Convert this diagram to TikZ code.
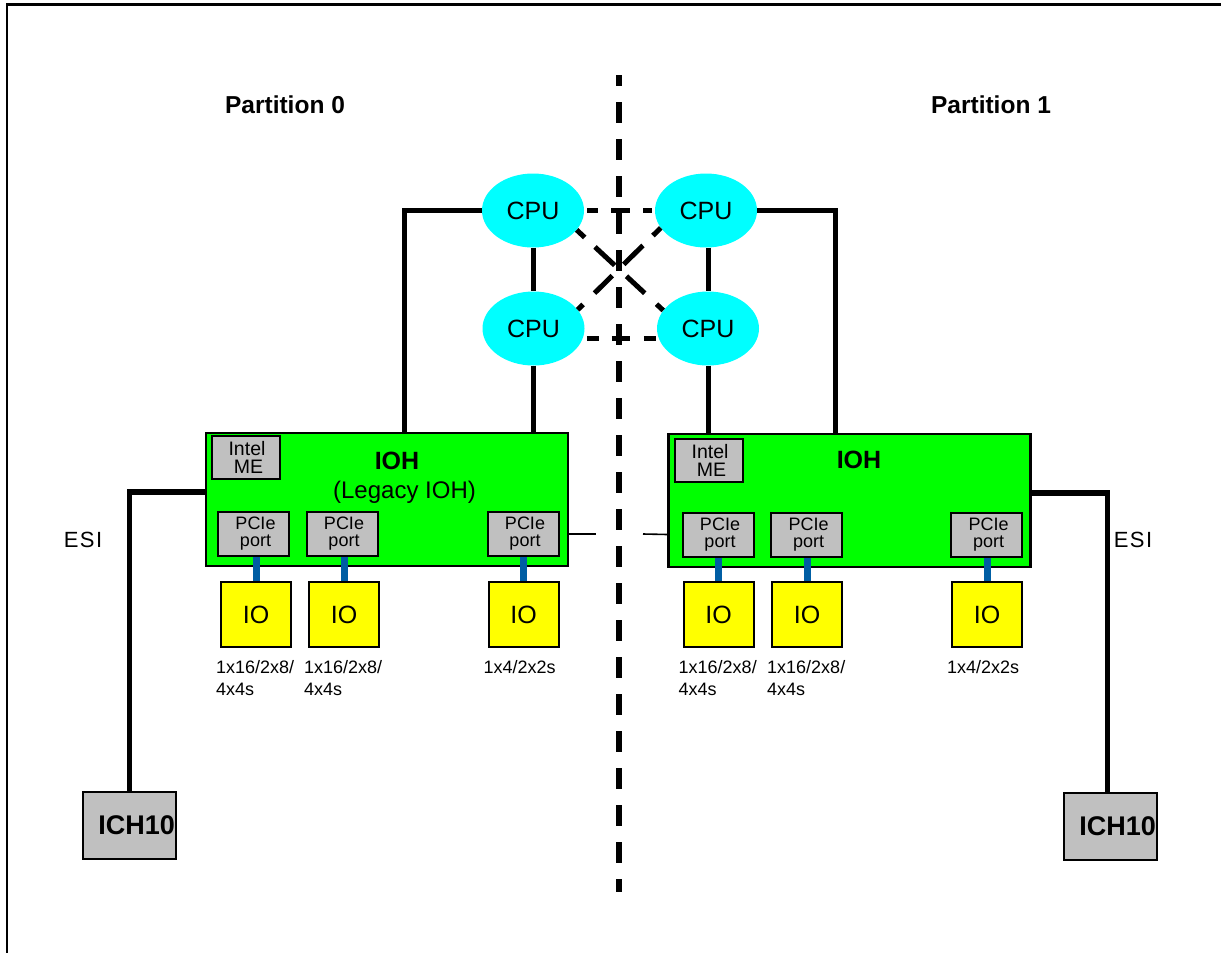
\documentclass[tikz,border=0pt]{standalone}
\usepackage{fontspec}
\setmainfont{Liberation Sans}
\usetikzlibrary{shapes.geometric,calc}
\definecolor{cpucyan}{RGB}{0,255,255}
\definecolor{iohgreen}{RGB}{0,255,0}
\definecolor{boxgray}{RGB}{192,192,192}
\definecolor{ioyellow}{RGB}{255,255,0}
\definecolor{linkblue}{RGB}{0,94,164}
\begin{document}
\begin{tikzpicture}[x=1pt,y=-1pt,
  cpu/.style={ellipse,fill=cpucyan,minimum width=102pt,minimum height=74pt,inner sep=0pt,font=\fontsize{25}{25}\selectfont},
  iohbox/.style={rectangle,draw,fill=iohgreen,line width=2.5pt,minimum width=362pt,minimum height=133pt,inner sep=0pt},
  mebox/.style={rectangle,draw,fill=boxgray,line width=2pt,minimum width=68pt,minimum height=43pt,inner sep=0pt,align=center,font=\fontsize{19.5}{18}\selectfont},
  pciebox/.style={rectangle,draw,fill=boxgray,line width=2pt,minimum width=71pt,minimum height=44pt,inner sep=0pt,align=center,font=\fontsize{18}{17}\selectfont},
  iobox/.style={rectangle,draw,fill=ioyellow,line width=2pt,minimum width=70pt,minimum height=65pt,inner sep=0pt,font=\fontsize{25}{25}\selectfont},
  ichbox/.style={rectangle,draw,fill=boxgray,line width=2pt,minimum width=93pt,minimum height=67pt,inner xsep=1pt,inner ysep=0pt,text width=91pt,align=right,font=\bfseries\fontsize{27}{27}\selectfont},
  lanelabel/.style={anchor=north west,inner sep=0pt,align=left,font=\fontsize{18}{22}\selectfont},
  plain/.style={inner sep=0pt},
  heavy/.style={line width=5pt},
  esiline/.style={line width=5.5pt},
  qpi/.style={line width=5pt},
  bluelink/.style={line width=7pt,draw=linkblue},
  thinlink/.style={line width=1.6pt},
  partline/.style={line width=6pt,dash pattern=on 21pt off 16pt,dash phase=10pt}
]
\useasboundingbox (0,0) rectangle (1221,953);
% frame
\draw[line width=2.7pt] (7,953) -- (7,4.5) -- (1221,4.5);

% partition labels
\node[plain,font=\bfseries\fontsize{24.5}{24.5}\selectfont] (part0) at (285,105) {Partition 0};
\node[plain,font=\bfseries\fontsize{24.5}{24.5}\selectfont] (part1) at (991,105) {Partition 1};

% partition divider
\coordinate (ptop) at (619,75);
\coordinate (pbot) at (619,892);
\draw[partline] (ptop) -- (pbot);

% CPUs
\node[cpu] (tl) at (533,210.5) {CPU};
\node[cpu] (tr) at (706,210.5) {CPU};
\node[cpu] (bl) at (533.5,328.5) {CPU};
\node[cpu] (br) at (708,328.5) {CPU};

% IOHs
\node[iohbox] (ioh0) at (387,499.5) {};
\node[iohbox] (ioh1) at (849.5,500.5) {};
\node[plain,font=\bfseries\fontsize{25}{25}\selectfont] (ioh0t) at (397,461) {IOH};
\node[plain,font=\fontsize{24}{24}\selectfont] (ioh0s) at (404.5,492) {(Legacy IOH)};
\node[plain,font=\bfseries\fontsize{25}{25}\selectfont] (ioh1t) at (859,460) {IOH};

% Intel ME
\node[mebox] (me0) at (245.5,457.5) {\hspace*{3pt}Intel\\\hspace*{6pt}ME};
\node[mebox] (me1) at (708.5,460.5) {\hspace*{3pt}Intel\\\hspace*{6pt}ME};

% PCIe ports
\node[pciebox] (p01) at (253.5,534) {\hspace*{4pt}PCIe\\\hspace*{4pt}port};
\node[pciebox] (p02) at (342,534) {\hspace*{4pt}PCIe\\\hspace*{4pt}port};
\node[pciebox] (p03) at (523,534) {\hspace*{4pt}PCIe\\\hspace*{4pt}port};
\node[pciebox] (p11) at (718,534.5) {\hspace*{4pt}PCIe\\\hspace*{4pt}port};
\node[pciebox] (p12) at (806.5,534.5) {\hspace*{4pt}PCIe\\\hspace*{4pt}port};
\node[pciebox] (p13) at (986.5,534.5) {\hspace*{4pt}PCIe\\\hspace*{4pt}port};

% IO boxes
\node[iobox] (io01) at (256,614.5) {IO};
\node[iobox] (io02) at (344,614.5) {IO};
\node[iobox] (io03) at (523.5,614.5) {IO};
\node[iobox] (io11) at (718.5,614.5) {IO};
\node[iobox] (io12) at (807,614.5) {IO};
\node[iobox] (io13) at (987,614.5) {IO};

% lane labels
\node[lanelabel] (l01) at ([xshift=-4pt,yshift=-12.5pt]io01.south west) {1x16/2x8/\\4x4s};
\node[lanelabel] (l02) at ([xshift=-4pt,yshift=-12.5pt]io02.south west) {1x16/2x8/\\4x4s};
\node[lanelabel] (l03) at ([xshift=-4pt,yshift=-12.5pt]io03.south west) {1x4/2x2s};
\node[lanelabel] (l11) at ([xshift=-4pt,yshift=-12.5pt]io11.south west) {1x16/2x8/\\4x4s};
\node[lanelabel] (l12) at ([xshift=-4pt,yshift=-12.5pt]io12.south west) {1x16/2x8/\\4x4s};
\node[lanelabel] (l13) at ([xshift=-4pt,yshift=-12.5pt]io13.south west) {1x4/2x2s};

% ICH10
\node[ichbox] (ich0) at (129.5,825) {ICH10};
\node[ichbox] (ich1) at (1110.5,826) {ICH10};

% ESI labels
\node[plain,font=\fontsize{22}{22}\selectfont] (esi0) at (83,540) {E\kern1.5pt S\kern1.5pt I};
\node[plain,font=\fontsize{22}{22}\selectfont] (esi1) at (1133,540) {E\kern1.5pt S\kern1.5pt I};

% CPU to IOH links
\draw[heavy] (tl.west) -| ([xshift=200pt]ioh0.north west);
\draw[heavy] (tl.south) -- (tl.south |- bl.north);
\draw[heavy] (bl.south) -- (bl.south |- ioh0.north);
\draw[heavy] (tr.east) -| ([xshift=-196.5pt]ioh1.north east);
\draw[heavy] (br.north |- tr.south) -- (br.north);
\draw[heavy] (br.south) -- (br.south |- ioh1.north);

% cross-partition dashed links
\draw[qpi,shorten <=3pt,shorten >=3pt,dash pattern=on 11pt off 13pt on 19pt off 13pt on 11pt off 40pt] (tl.east) -- (tr.west);
\draw[qpi,shorten <=4pt,shorten >=2pt,dash pattern=on 12pt off 13pt on 18pt off 14pt on 12pt off 40pt] (bl.-11) -- (br.191);
\draw[qpi,dash pattern=on 11pt off 14pt on 27pt off 16pt on 25pt off 16pt on 11pt off 40pt] (tl.-24) -- (br.158);
\draw[qpi,dash pattern=on 11pt off 14pt on 27pt off 16pt on 25pt off 16pt on 11pt off 40pt] (tr.201) -- (bl.23);

% ESI links
\draw[esiline] ([yshift=7.5pt]ioh0.west) -| (ich0.north);
\draw[esiline] ([yshift=7.5pt]ioh1.east) -| ([xshift=-3pt]ich1.north);

% PCIe to IO links
\foreach \p/\q in {p01/io01,p02/io02,p03/io03,p11/io11,p12/io12,p13/io13}
  \draw[bluelink] (\q.north |- \p.south) -- (\q.north);

% thin stubs between IOHs
\coordinate (stubL) at (596,534);
\coordinate (stubR) at (643,534);
\draw[thinlink] (ioh0.east |- p03.east) -- (stubL);
\draw[thinlink] (stubR) -- (ioh1.west |- p11.west);
\end{tikzpicture}
\end{document}
